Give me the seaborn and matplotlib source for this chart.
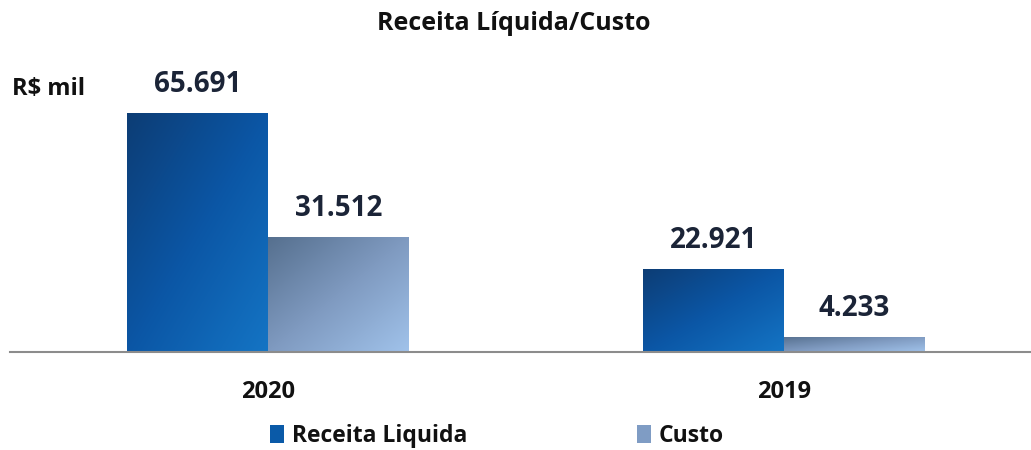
import numpy as np
import pandas as pd
import matplotlib
matplotlib.use("Agg")
import matplotlib.pyplot as plt
import seaborn as sns
from matplotlib.colors import LinearSegmentedColormap
from matplotlib.patches import Patch

years = ["2020", "2019"]
series = ["Receita Liquida", "Custo"]
receita = [65691, 22921]
custo = [31512, 4233]
value_labels = {"Receita Liquida": ["65.691", "22.921"], "Custo": ["31.512", "4.233"]}

df = pd.DataFrame({
    "ano": years * 2,
    "serie": [series[0]] * 2 + [series[1]] * 2,
    "valor": receita + custo,
})

sns.set_theme(style="white")
plt.rcParams['font.family'] = ['Open Sans', 'DejaVu Sans']

fig = plt.figure(figsize=(10.31, 4.5), dpi=100)
ax = fig.add_axes([10/1031, 98/450, 1020/1031, 252/450])

solid = {"Receita Liquida": "#0a5aa8", "Custo": "#7f9cc4"}
sns.barplot(data=df, x="ano", y="valor", hue="serie", order=years, hue_order=series,
            palette=solid, width=0.545, ax=ax, legend=False, saturation=1)

XLIM = (-0.5, -0.5 + 1020 / 516)
YLIM = (0, 65691 * 252 / 239)

grads = {
    "Receita Liquida": ("#0d3d75", "#0b56a5", "#1474c4"),
    "Custo": ("#56708f", "#7f9ac0", "#a0c2ea"),
}
label_color = "#1b2437"
for cont, s in zip(ax.containers, series):
    cmap = LinearSegmentedColormap.from_list(s, grads[s])
    for bar, lab in zip(cont, value_labels[s]):
        x0, y0 = bar.get_x(), bar.get_y()
        w, h = bar.get_width(), bar.get_height()
        n = 64
        xx, yy = np.meshgrid(np.linspace(0, 1, n), np.linspace(0, 1, n))
        z = (xx + (1 - yy)) / 2
        im = ax.imshow(z, extent=[x0, x0 + w, y0, y0 + h], origin="lower", cmap=cmap,
                       aspect="auto", zorder=bar.get_zorder() + 0.1, interpolation="bilinear")
        im.set_clip_path(bar)
        bar.set_facecolor("none")
        bar.set_edgecolor("none")
        ax.annotate(lab, (x0 + w / 2, y0 + h), xytext=(0, 10), textcoords="offset points",
                    ha="center", va="bottom", fontsize=20, fontweight="bold", color=label_color)
ax.set_xlim(*XLIM)
ax.set_ylim(*YLIM)

for sp in ["top", "right", "left"]:
    ax.spines[sp].set_visible(False)
ax.spines["bottom"].set_color("#8c8c8c")
ax.spines["bottom"].set_linewidth(1.5)
ax.set_yticks([])
ax.set_xlabel("")
ax.set_ylabel("")
ax.set_xticks([0, 1])
ax.set_xticklabels(years, fontsize=17, fontweight="bold", color="#111111")
ax.tick_params(axis="x", which="major", length=0, pad=20)
ax.set_xticks([-0.5, 0.5], minor=True)
ax.tick_params(axis="x", which="minor", length=7, width=1.2, color="#8c8c8c", direction="out")

fig.text(514/1031, 1 - 23/450, "Receita Líquida/Custo", ha="center", va="center",
         fontsize=18, fontweight="bold", color="#111111")
fig.text(12/1031, 1 - 89/450, "R$ mil", ha="left", va="center",
         fontsize=17, fontweight="bold", color="#111111")

handles = [Patch(facecolor=solid[s], edgecolor="none") for s in series]
leg = fig.legend(handles, series, loc="center", bbox_to_anchor=(497/1031, 1 - 436/450),
                 ncol=2, frameon=False, prop={"size": 16.5, "weight": "bold"},
                 handlelength=0.6, handleheight=0.8, handletextpad=0.35, columnspacing=7.4)
for t in leg.get_texts():
    t.set_color("#111111")

fig.savefig("out.png", dpi=100)
